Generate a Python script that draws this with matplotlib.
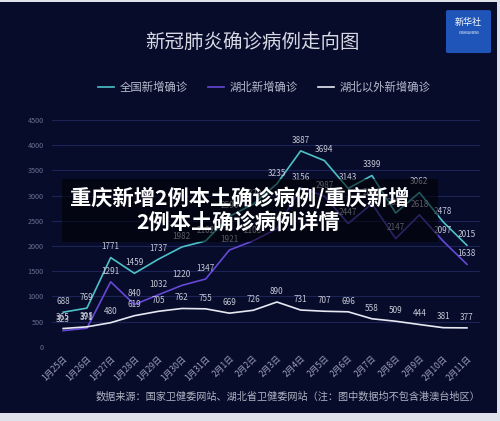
import numpy as np
import matplotlib.pyplot as plt
from matplotlib.patches import Rectangle, FancyBboxPatch

plt.rcParams['font.family'] = ['Noto Sans CJK SC', 'DejaVu Sans']

# datos del grafico
fechas = ['1月25日', '1月26日', '1月27日', '1月28日', '1月29日', '1月30日', '1月31日',
          '2月1日', '2月2日', '2月3日', '2月4日', '2月5日', '2月6日', '2月7日',
          '2月8日', '2月9日', '2月10日', '2月11日']
quanguo = [688, 769, 1771, 1459, 1737, 1982, 2102, 2590, 2829, 3235, 3887, 3694,
           3143, 3399, 2656, 3062, 2478, 2015]
hubei = [323, 371, 1291, 840, 1032, 1220, 1347, 1921, 2103, 2345, 3156, 2987,
         2447, 2841, 2147, 2618, 2097, 1638]
hubei_fuera = [365, 398, 480, 619, 705, 762, 755, 669, 726, 890, 731, 707,
               696, 558, 509, 444, 381, 377]
nombres = ['全国新增确诊', '湖北新增确诊', '湖北以外新增确诊']
colores = ['#4cc2c6', '#6548d6', '#e6e8f2']

fondo = '#080c2b'
fig = plt.figure(figsize=(5, 4.21), dpi=100, facecolor='#dfe2ea')
fig.patches.append(Rectangle((0, 0.018), 0.994, 0.978, transform=fig.transFigure,
                             facecolor=fondo, edgecolor='none', zorder=-2))

ax = fig.add_axes([0.104, 0.176, 0.856, 0.539])
ax.set_facecolor('none')
x = np.arange(len(fechas))
for serie, c in zip([quanguo, hubei, hubei_fuera], colores):
    ax.plot(x, serie, color=c, lw=1.2, zorder=3)
    for xi, v in zip(x, serie):
        ax.annotate(str(v), (xi, v), xytext=(0, 4.5), textcoords='offset points',
                    ha='center', va='bottom', fontsize=5.9, color='#c4c8d6', zorder=4)

ax.set_xlim(-0.47, 17.55)
ax.set_ylim(0, 4500)
ax.set_yticks(np.arange(0, 4501, 500))
ax.grid(axis='y', color='#1c2455', lw=0.8)
ax.set_axisbelow(True)
for s in ax.spines.values():
    s.set_visible(False)
ax.tick_params(axis='y', length=0, labelsize=5.2, labelcolor='#6a7090', pad=6)
ax.set_xticks(x)
ax.set_xticklabels(fechas, rotation=45, ha='right', va='top', rotation_mode='anchor')
ax.tick_params(axis='x', length=0, labelsize=6.2, labelcolor='#9ba0b8', pad=5)

# titulo y leyenda
fig.text(0.504, 0.898, '新冠肺炎确诊病例走向图', ha='center', va='center',
         fontsize=14, color='#d6d9e4')
leg_x = [0.196, 0.416, 0.636]
for lx, n, c in zip(leg_x, nombres, colores):
    fig.lines.append(plt.Line2D([lx, lx + 0.032], [0.793, 0.793], color=c, lw=1.2,
                                transform=fig.transFigure))
    fig.text(lx + 0.044, 0.793, n, ha='left', va='center', fontsize=8.2, color='#b7bbcc')

fig.text(0.192, 0.057, '数据来源：国家卫健委网站、湖北省卫健委网站（注：图中数据均不包含港澳台地区）',
         ha='left', va='center', fontsize=7.3, color='#b0b4c4')

# logo
fig.patches.append(FancyBboxPatch((0.896, 0.878), 0.082, 0.094, boxstyle='round,pad=0.004',
                                  transform=fig.transFigure, facecolor='#1f55b8',
                                  edgecolor='none'))
fig.text(0.937, 0.946, '新华社', ha='center', va='center', fontsize=6.5, color='white')
fig.text(0.937, 0.921, 'XINHUA NEWS', ha='center', va='center', fontsize=2.2, color='white')

# banner superpuesto
fig.patches.append(Rectangle((0.124, 0.425), 0.752, 0.15, transform=fig.transFigure,
                             facecolor='black', alpha=0.55, edgecolor='none', zorder=5))
fig.text(0.48, 0.53, '重庆新增2例本土确诊病例/重庆新增', ha='center', va='center',
         fontsize=15.3, fontweight='bold', color='white', zorder=6)
fig.text(0.476, 0.473, '2例本土确诊病例详情', ha='center', va='center',
         fontsize=15.3, fontweight='bold', color='white', zorder=6)

plt.savefig('out.png', dpi=100, facecolor=fig.get_facecolor())
